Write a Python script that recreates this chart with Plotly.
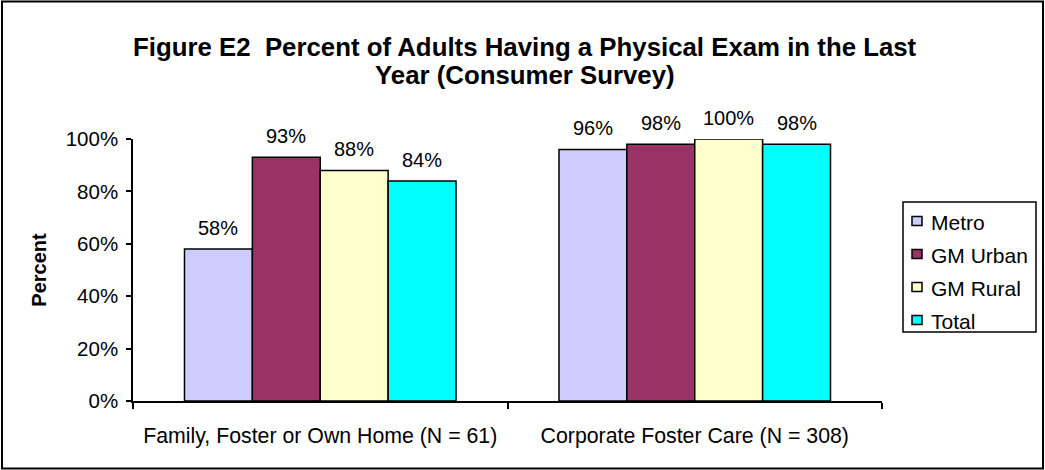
import plotly.graph_objects as go

# Survey groups along the x axis
categories = ["Family, Foster or Own Home (N = 61)", "Corporate Foster Care (N = 308)"]

# Percent of adults with a physical exam in the last year, by region
metro = [58, 96]
gm_urban = [93, 98]
gm_rural = [88, 100]
total = [84, 98]

series_names = ["Metro", "GM Urban", "GM Rural", "Total"]
series_values = [metro, gm_urban, gm_rural, total]
series_colors = ["#CCCCFF", "#993366", "#FFFFCC", "#00FFFF"]

y_ticks = [0, 20, 40, 60, 80, 100]
y_tick_labels = ["0%", "20%", "40%", "60%", "80%", "100%"]

title_lines = ["Figure E2  Percent of Adults Having a Physical Exam in the Last",
               "Year (Consumer Survey)"]

FONT = "Liberation Sans, Arial, sans-serif"

W, H = 1045, 470
ML, MR, MT, MB = 133, 163, 139, 69
pw, ph = W - ML - MR, H - MT - MB
BARGAP = 0.275


def px_x(px):
    return (px - ML) / pw


def px_y(py):
    return (H - MB - py) / ph


fig = go.Figure()
for name, vals, color in zip(series_names, series_values, series_colors):
    fig.add_trace(go.Bar(
        name=name,
        x=categories,
        y=vals,
        marker=dict(color=color, line=dict(color="black", width=1.5)),
        showlegend=False,
    ))

annotations = []

# Value labels above each bar, placed at the bar's own centre and height
n = len(series_names)
bar_w = (1 - BARGAP) / n
for i, vals in enumerate(series_values):
    offset = -(1 - BARGAP) / 2 + (i + 0.5) * bar_w
    for ci, v in enumerate(vals):
        annotations.append(dict(
            x=ci + offset, y=v, xref="x", yref="y",
            text=f"{v}%", showarrow=False,
            xanchor="center", yanchor="bottom", yshift=8,
            font=dict(family=FONT, size=20, color="black"),
        ))

# Two-line bold title
for k, line in enumerate(title_lines):
    annotations.append(dict(
        x=px_x(525), y=px_y(47 + 28 * k), xref="paper", yref="paper",
        text=f"<b>{line}</b>", showarrow=False,
        xanchor="center", yanchor="middle",
        font=dict(family=FONT, size=25.8, color="black"),
    ))

# Legend: framed box with a small swatch per series
LEG_X0, LEG_X1, LEG_Y0, LEG_Y1 = 903, 1036, 202, 332
shapes = [dict(
    type="rect", xref="paper", yref="paper",
    x0=px_x(LEG_X0), x1=px_x(LEG_X1), y0=px_y(LEG_Y1), y1=px_y(LEG_Y0),
    line=dict(color="black", width=1.5), fillcolor="white", layer="above",
)]
for k, (name, color) in enumerate(zip(series_names, series_colors)):
    cy = 221 + 33 * k
    shapes.append(dict(
        type="rect", xref="paper", yref="paper",
        x0=px_x(912), x1=px_x(922), y0=px_y(cy + 4.5), y1=px_y(cy - 4.5),
        line=dict(color="black", width=1.5), fillcolor=color, layer="above",
    ))
    annotations.append(dict(
        x=px_x(929), y=px_y(cy + 1), xref="paper", yref="paper",
        text=name, showarrow=False, xanchor="left", yanchor="middle",
        font=dict(family=FONT, size=21, color="black"),
    ))

# Outer chart frame
shapes.append(dict(
    type="rect", xref="paper", yref="paper",
    x0=px_x(2), x1=px_x(1043), y0=px_y(468.5), y1=px_y(1.5),
    line=dict(color="black", width=2), fillcolor="rgba(0,0,0,0)", layer="below",
))

fig.update_layout(
    width=W,
    height=H,
    margin=dict(l=ML, r=MR, t=MT, b=MB, pad=0),
    paper_bgcolor="white",
    plot_bgcolor="white",
    barmode="group",
    bargap=BARGAP,
    bargroupgap=0,
    showlegend=False,
    font=dict(family=FONT, size=20, color="black"),
    xaxis=dict(
        type="category",
        range=[-0.5, 1.5],
        showline=True, linecolor="black", linewidth=2,
        ticks="outside", tickson="boundaries", ticklen=6, tickwidth=1.5, tickcolor="black",
        tickfont=dict(family=FONT, size=21.3, color="black"),
        ticklabelstandoff=14,
        showgrid=False, zeroline=False,
    ),
    yaxis=dict(
        range=[0, 100],
        tickvals=y_ticks, ticktext=y_tick_labels,
        showline=True, linecolor="black", linewidth=1.5,
        ticks="outside", ticklen=5, tickwidth=1.5, tickcolor="black",
        tickfont=dict(family=FONT, size=20.5, color="black"),
        ticklabelstandoff=4,
        showgrid=False, zeroline=False,
        title=dict(text="<b>Percent</b>", font=dict(family=FONT, size=20, color="black"), standoff=14),
    ),
    annotations=annotations,
    shapes=shapes,
)

fig.write_html("out.html")
